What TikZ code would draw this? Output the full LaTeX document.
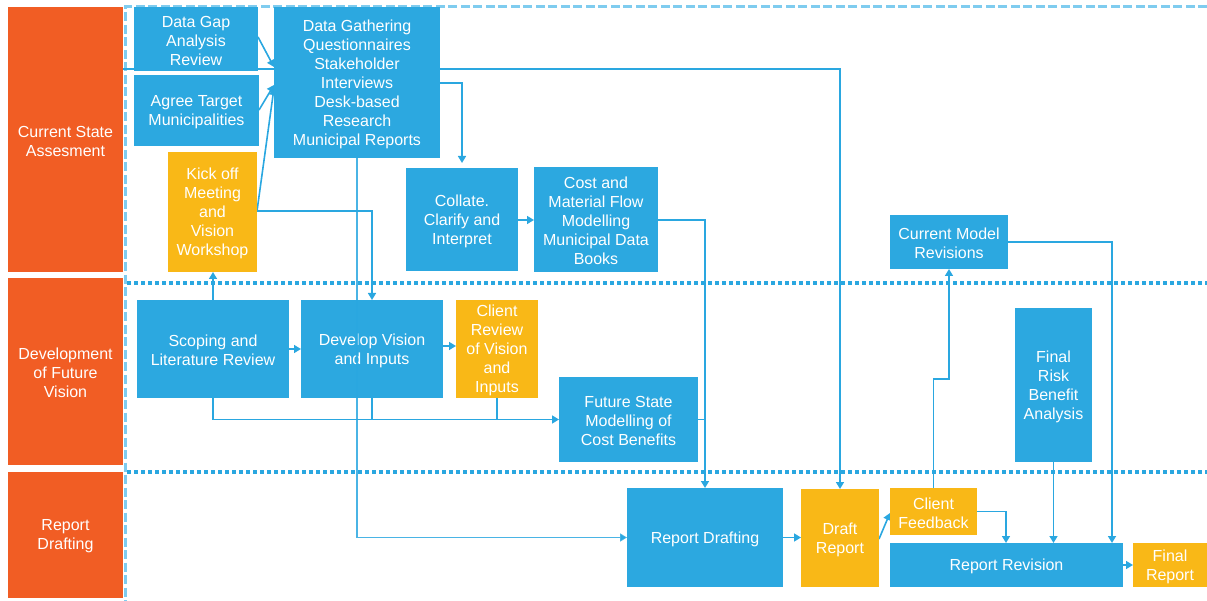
\documentclass[tikz,border=0pt]{standalone}
\usepackage{fontspec}
\setmainfont{Liberation Sans}
\usetikzlibrary{arrows.meta,backgrounds,calc}
\definecolor{boxblue}{HTML}{2CA8E0}
\definecolor{boxyellow}{HTML}{F9B817}
\definecolor{laborange}{HTML}{F15D24}
\definecolor{lineblue}{HTML}{2AA7E0}
\definecolor{dashblue}{HTML}{7FCCEF}
\tikzset{
 base/.style={anchor=north west, inner sep=0pt, outer sep=0pt},
 bluebox/.style={base, fill=boxblue},
 yelbox/.style={base, fill=boxyellow},
 labbox/.style={base, fill=laborange},
 boxtext/.style={inner sep=0pt, text=white, align=center, font=\fontsize{16}{19}\selectfont},
 conn/.style={draw=lineblue, line width=1.6pt},
 arr/.style={conn, -{Triangle[length=7pt,width=8pt]}},
 lanesep/.style={draw=lineblue, line width=4pt, dash pattern=on 4pt off 3pt},
 lborder/.style={draw=dashblue, line width=3pt, dash pattern=on 9pt off 3.5pt}
}
\newcommand\bx[7]{\node[#6, minimum width={(#4-#2)*1pt}, minimum height={(#5-#3)*1pt}] (#1) at (#2,#3) {};
\node[boxtext] (#1t) at ([yshift=-1.5pt]#1.center) {#7};}
\begin{document}
\begin{tikzpicture}[x=1pt,y=-1pt]
\useasboundingbox (0,0) rectangle (1207,601);
% lane labels
\bx{lab1}{8}{7}{123}{272}{labbox}{Current State\\Assesment}
\bx{lab2}{8}{278}{123}{465}{labbox}{Development\\of Future\\Vision}
\bx{lab3}{8}{472}{123}{598}{labbox}{Report\\Drafting}
% boxes
\bx{dgap}{134}{7}{258}{71}{bluebox}{Data Gap\\Analysis\\Review}
\bx{agree}{134}{75}{259}{146}{bluebox}{Agree Target\\Municipalities}
\bx{kick}{168}{152}{257}{272}{yelbox}{Kick off\\Meeting\\and\\Vision\\Workshop}
\bx{dg}{274}{7}{440}{158}{bluebox}{Data Gathering\\Questionnaires\\Stakeholder\\Interviews\\Desk-based\\Research\\Municipal Reports}
\bx{coll}{406}{168}{518}{271}{bluebox}{Collate.\\Clarify and\\Interpret}
\bx{cost}{534}{167}{658}{272}{bluebox}{Cost and\\Material Flow\\Modelling\\Municipal Data\\Books}
\bx{cmr}{890}{215}{1008}{269}{bluebox}{Current Model\\Revisions}
\bx{scop}{137}{300}{289}{398}{bluebox}{Scoping and\\Literature Review}
\bx{dev}{301}{300}{443}{398}{bluebox}{Develop Vision\\and Inputs}
\bx{crev}{456}{300}{538}{398}{yelbox}{Client\\Review\\of Vision\\and\\Inputs}
\bx{fut}{559}{377}{698}{462}{bluebox}{Future State\\Modelling of\\Cost Benefits}
\bx{frba}{1015}{308}{1092}{462}{bluebox}{Final\\Risk\\Benefit\\Analysis}
\bx{rdraft}{627}{488}{783}{587}{bluebox}{Report Drafting}
\bx{draft}{801}{489}{879}{587}{yelbox}{Draft\\Report}
\bx{cfb}{890}{488}{977}{535}{yelbox}{Client\\Feedback}
\bx{rrev}{890}{543}{1123}{587}{bluebox}{Report Revision}
\bx{final}{1133}{543}{1207}{587}{yelbox}{Final\\Report}
\begin{pgfonlayer}{background}
% borders and lane separators
\coordinate (tl) at (125,7);
\coordinate (tr) at (1207,7);
\coordinate (bl) at (125,601);
\draw[lborder] (tr) -- (tl) -- (bl);
\coordinate (s1a) at (127,283);
\coordinate (s1b) at (1207,283);
\coordinate (s2a) at (127,472);
\coordinate (s2b) at (1207,472);
\draw[lanesep] (s1a) -- (s1b);
\draw[lanesep] (s2a) -- (s2b);
% connectors
\draw[arr] (lab1.east |- 0,69) -| (draft.north);
\draw[arr] (dgap.east |- 0,37) -- (dg.west |- 0,67);
\draw[arr] (agree.east |- 0,110) -- (dg.west |- 0,85);
\draw[arr] (kick.east |- 0,211) -- (dg.west |- 0,88);
\draw[arr] (kick.east |- 0,211) -| (dev.north);
\draw[arr, shorten >=5pt] (dg.east |- 0,83) -| (coll.north);
\draw[arr] (coll.east |- 0,220) -- (cost.west |- 0,220);
\draw[arr] (cost.east |- 0,220) -| (rdraft.north);
\draw[arr] (scop.north) -- (scop.north |- kick.south);
\draw[arr] (scop.east |- 0,349) -- (dev.west |- 0,349);
\draw[arr] (dev.east |- 0,346) -- (crev.west |- 0,346);
\draw[arr] (scop.south) |- (fut.west);
\draw[conn] (dev.south) -- (dev.south |- fut.west);
\draw[conn] (crev.south) -- (crev.south |- fut.west);
\draw[conn] (fut.east) -- (fut.east -| rdraft.north);
\draw[arr] (rdraft.east) -- (draft.west |- rdraft.east);
\draw[arr] (draft.east |- 0,539) -- (cfb.west |- 0,513);
\draw[arr] (cfb.north) |- (cmr.south |- 0,379) -- (cmr.south);
\draw[arr] (cfb.east) -| (rrev.north -| 1006,0);
\draw[arr] (frba.south) -- (frba.south |- rrev.north);
\draw[arr] (cmr.east) -| (rrev.north -| 1112,0);
\draw[arr] (rrev.east) -- (final.west);
\end{pgfonlayer}
% connector drawn over the Develop Vision box
\draw[arr, draw opacity=0.85] (dg.south) |- (rdraft.west);
\end{tikzpicture}
\end{document}
